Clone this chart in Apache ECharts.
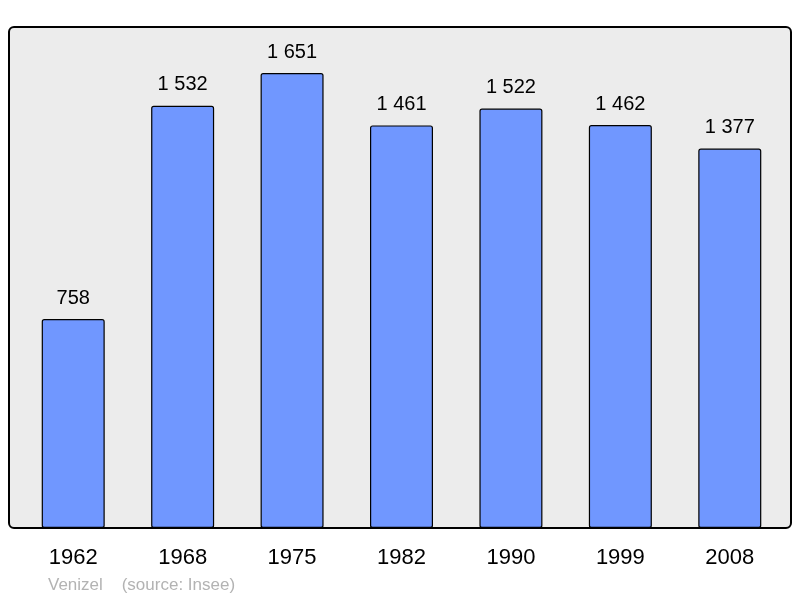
<!DOCTYPE html>
<html><head><meta charset="utf-8">
<script src="https://cdn.jsdelivr.net/npm/echarts@6/dist/echarts.min.js"></script>
<style>html,body{margin:0;padding:0;background:#fff}#c{width:800px;height:598px}</style>
</head><body><div id="c"></div>
<script>
var categories = ['1962','1968','1975','1982','1990','1999','2008'];
var population = [758, 1532, 1651, 1461, 1522, 1462, 1377];
var footerText = 'Venizel    (source: Insee)';

function fmt(v){ var s = String(v); return s.length > 3 ? s.slice(0, s.length-3) + ' ' + s.slice(-3) : s; }

var chart = echarts.init(document.getElementById('c'), null, {renderer:'canvas'});
chart.setOption({
  animation:false,
  backgroundColor:'#ffffff',
  textStyle:{fontFamily:'Liberation Sans, Arial, sans-serif'},
  graphic:[
    {type:'rect', z:-10, shape:{x:9,y:27,width:782,height:501,r:5}, style:{fill:'#ececec',stroke:'#000',lineWidth:2}},
    {type:'text', left:48, top:577, style:{text:footerText, fill:'#b3b3b3', font:'17px "Liberation Sans", Arial, sans-serif'}}
  ],
  grid:{left:18.5, top:27, width:766, height:501, containLabel:false},
  xAxis:{type:'category', data:categories, boundaryGap:true,
    axisLine:{show:false}, axisTick:{show:false},
    axisLabel:{color:'#000', fontSize:22, margin:19, fontFamily:'Liberation Sans, Arial, sans-serif'}},
  yAxis:{type:'value', min:0, max:1818, show:false, splitLine:{show:false}},
  series:[{type:'bar', data:population, barWidth:63,
    itemStyle:{color:'#7097ff', borderColor:'#000', borderWidth:1.2, borderRadius:2},
    label:{show:true, position:'top', distance:11, color:'#000', fontSize:20,
      fontFamily:'Liberation Sans, Arial, sans-serif', formatter:function(p){return fmt(p.value);}}
  }]
});
</script></body></html>
